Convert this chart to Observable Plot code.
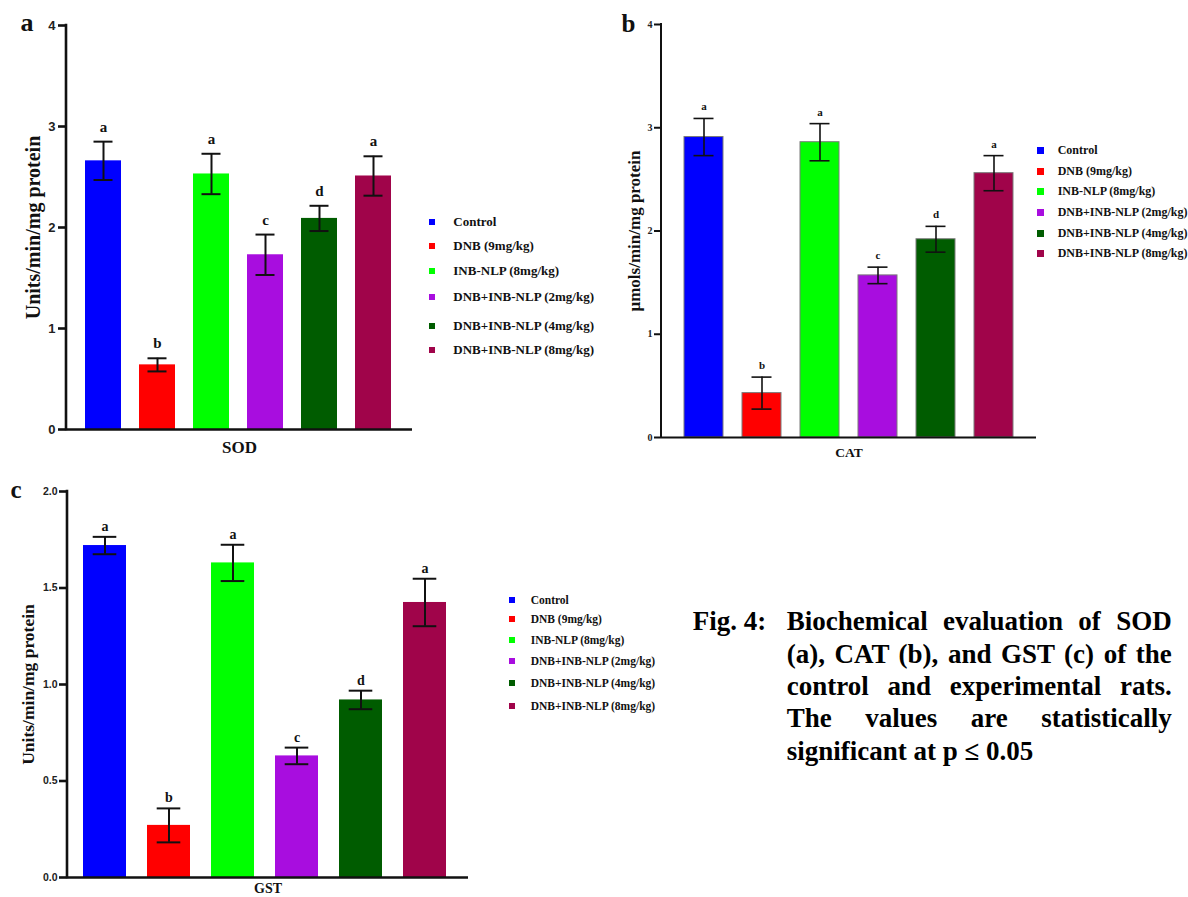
<!DOCTYPE html>
<html>
<head>
<meta charset="utf-8">
<script src="https://cdn.jsdelivr.net/npm/d3@7"></script>
<script src="https://cdn.jsdelivr.net/npm/@observablehq/plot@0.6"></script>
<style>
  html, body { margin: 0; padding: 0; background: #fff; }
  #root { position: relative; width: 1188px; height: 897px; overflow: hidden; background: #fff; }
  .abs { position: absolute; }
  .serif { font-family: "Liberation Serif", "Times New Roman", serif; font-weight: bold; color: #111; }
  .leg { position: absolute; display: flex; align-items: center; white-space: nowrap; }
  .cap { position: absolute; font-family: "Liberation Serif", "Times New Roman", serif; font-weight: bold; font-size: 27px; line-height: 32.3px; color: #000; white-space: nowrap; }
  .just { text-align: justify; text-align-last: justify; }
</style>
</head>
<body>
<div id="root"></div>
<script>
// ---- data ----
const groups = ["Control", "DNB (9mg/kg)", "INB-NLP (8mg/kg)", "DNB+INB-NLP (2mg/kg)", "DNB+INB-NLP (4mg/kg)", "DNB+INB-NLP (8mg/kg)"];
const colors = ["#0000ff", "#ff0000", "#00ff00", "#a80ddf", "#005c00", "#a0044a"];
const letters = ["a", "b", "a", "c", "d", "a"];

const sodMean = [2.66, 0.64, 2.53, 1.73, 2.09, 2.51];
const sodErr  = [0.19, 0.065, 0.20, 0.20, 0.125, 0.195];
const catMean = [2.91, 0.43, 2.86, 1.57, 1.92, 2.56];
const catErr  = [0.18, 0.155, 0.18, 0.08, 0.125, 0.17];
const gstMean = [1.72, 0.27, 1.63, 0.63, 0.92, 1.425];
const gstErr  = [0.045, 0.088, 0.094, 0.043, 0.048, 0.123];

const ticksAB = [0, 1, 2, 3, 4];
const ticksC = [0, 0.5, 1.0, 1.5, 2.0];

const root = document.getElementById("root");
const SERIF = "Liberation Serif, Times New Roman, serif";
const SANS = "Liberation Sans, Arial, sans-serif";

function rows(mean, err) {
  return groups.map((g, i) => ({group: g, mean: mean[i], err: err[i], letter: letters[i]}));
}

function panel(o) {
  const data = rows(o.mean, o.err);
  const svg = Plot.plot({
    width: o.width, height: o.height,
    marginLeft: o.ml, marginTop: o.mt, marginBottom: o.mb, marginRight: 0,
    style: {background: "transparent", overflow: "visible"},
    x: {domain: groups, paddingInner: 0.335, paddingOuter: o.po, align: o.align, axis: null},
    y: {domain: o.ydomain, axis: null},
    color: {domain: groups, range: colors},
    marks: [
      Plot.barY(data, {x: "group", y: "mean", fill: "group", stroke: o.barStroke, strokeWidth: o.barStroke ? 1 : 0}),
      Plot.ruleX(data, {x: "group", y1: d => d.mean - d.err, y2: d => d.mean + d.err, stroke: "#111", strokeWidth: o.esw}),
      Plot.tickY(data, {x: "group", y: d => d.mean + d.err, stroke: "#111", strokeWidth: o.esw, insetLeft: o.capInset, insetRight: o.capInset}),
      Plot.tickY(data, {x: "group", y: d => d.mean - d.err, stroke: "#111", strokeWidth: o.esw, insetLeft: o.capInset, insetRight: o.capInset}),
      Plot.text(data, {x: "group", y: d => d.mean + d.err, text: "letter", lineAnchor: "bottom", dy: o.letterDy,
        fontSize: o.letterSize, fontWeight: "bold", fontFamily: SERIF, fill: "#111"}),
      Plot.ruleY([0], {stroke: "#111", strokeWidth: o.asw}),
      Plot.axisY({ticks: o.ticks, tickFormat: o.tickFormat, tickSize: o.tickSize, tickPadding: o.tickPadding,
        strokeWidth: o.asw, stroke: "#111", fontSize: o.tickFont, fontWeight: "bold", fontFamily: o.tickFamily,
        fill: "#222", label: null}),
      Plot.text([o.ylabel], {frameAnchor: "left", textAnchor: "middle", lineAnchor: "middle", rotate: -90, dx: o.ylabelDx,
        fontSize: o.ylabelSize, fontWeight: "bold", fontFamily: SERIF, fill: "#111"}),
      Plot.text([o.xlabel], {frameAnchor: "bottom", textAnchor: "middle", lineAnchor: "bottom", dy: o.xlabelDy,
        fontSize: o.xlabelSize, fontWeight: "bold", fontFamily: SERIF, fill: "#111"})
    ]
  });
  // y-axis line
  d3.select(svg).append("line")
    .attr("x1", o.ml).attr("x2", o.ml)
    .attr("y1", o.mt - o.asw / 2).attr("y2", o.height - o.mb + o.asw / 2)
    .attr("stroke", "#111").attr("stroke-width", o.asw);
  const wrap = document.createElement("div");
  wrap.className = "abs";
  wrap.style.left = o.left + "px";
  wrap.style.top = o.top + "px";
  wrap.appendChild(svg);
  root.appendChild(wrap);
}

function legend(o) {
  groups.forEach((g, i) => {
    const row = document.createElement("div");
    row.className = "leg serif";
    const h = 20;
    row.style.left = o.sqLeft + "px";
    row.style.top = (o.centers[i] - h / 2) + "px";
    row.style.height = h + "px";
    row.style.fontSize = o.fontSize + "px";
    const sq = document.createElement("span");
    sq.style.display = "inline-block";
    sq.style.width = o.sq + "px";
    sq.style.height = o.sq + "px";
    sq.style.background = colors[i];
    sq.style.marginRight = (o.textLeft - o.sqLeft - o.sq) + "px";
    const t = document.createElement("span");
    t.textContent = g;
    row.appendChild(sq);
    row.appendChild(t);
    root.appendChild(row);
  });
}

function panelLetter(txt, left, baseline, size) {
  const d = document.createElement("div");
  d.className = "abs serif";
  d.style.fontSize = size + "px";
  d.style.lineHeight = size + "px";
  d.style.left = left + "px";
  d.style.top = (baseline - 0.8375 * size) + "px";
  d.textContent = txt;
  root.appendChild(d);
}

// Panel a: SOD
panel({
  left: 0, top: 0, width: 412, height: 470, ml: 66, mt: 25, mb: 41,
  po: 0.345, align: 0.48, mean: sodMean, err: sodErr, ydomain: [0, 4],
  ticks: ticksAB, tickFormat: d3.format("d"), tickSize: 8, tickPadding: 3, tickFont: 13, tickFamily: SANS,
  asw: 2.6, esw: 2, capInset: 8.5, letterSize: 15, letterDy: -10,
  ylabel: "Units/min/mg protein", ylabelDx: -33, ylabelSize: 20,
  xlabel: "SOD", xlabelDy: 23, xlabelSize: 17
});
legend({sqLeft: 429.3, sq: 6, textLeft: 453.3, fontSize: 13, centers: [221.5, 245.7, 270.7, 296.7, 325.7, 350]});
panelLetter("a", 20.5, 31.7, 26);

// Panel b: CAT
panel({
  left: 600, top: 0, width: 436, height: 467, ml: 61, mt: 24, mb: 30,
  po: 0.352, align: 0.5, mean: catMean, err: catErr, ydomain: [0, 4],
  ticks: ticksAB, tickFormat: d3.format("d"), tickSize: 7, tickPadding: 2, tickFont: 10, tickFamily: SERIF,
  asw: 2, esw: 1.6, capInset: 9.5, letterSize: 11, letterDy: -8, barStroke: "#7a7a7a",
  ylabel: "μmols/min/mg protein", ylabelDx: -27, ylabelSize: 17,
  xlabel: "CAT", xlabelDy: 19, xlabelSize: 13.5
});
legend({sqLeft: 1037, sq: 7, textLeft: 1057.7, fontSize: 12, centers: [150.7, 171, 191.3, 212, 233, 253.7]});
panelLetter("b", 621.5, 31.7, 25);

// Panel c: GST
panel({
  left: 0, top: 470, width: 468, height: 437, ml: 67, mt: 21, mb: 30,
  po: 0.293, align: 0.415, mean: gstMean, err: gstErr, ydomain: [0, 2],
  ticks: ticksC, tickFormat: d3.format(".1f"), tickSize: 8, tickPadding: 2, tickFont: 10.5, tickFamily: SANS,
  asw: 2.6, esw: 2, capInset: 9.7, letterSize: 14, letterDy: -6,
  ylabel: "Units/min/mg protein", ylabelDx: -39, ylabelSize: 17.5,
  xlabel: "GST", xlabelDy: 15, xlabelSize: 14
});
legend({sqLeft: 509.3, sq: 6, textLeft: 530.7, fontSize: 11.5, centers: [600, 619.3, 640, 661, 683.3, 706]});
panelLetter("c", 10.5, 498.3, 25);

// Caption
const capLines = [
  "Biochemical evaluation of SOD",
  "(a), CAT (b), and GST (c) of the",
  "control and experimental rats.",
  "The values are statistically",
  "significant at p \u2264 0.05"
];
const fig = document.createElement("div");
fig.className = "cap";
fig.style.left = "692.7px";
fig.style.top = "605.4px";
fig.textContent = "Fig. 4:";
root.appendChild(fig);
capLines.forEach((line, i) => {
  const d = document.createElement("div");
  d.className = "cap" + (i < 4 ? " just" : "");
  d.style.left = "786.7px";
  d.style.width = "385px";
  d.style.top = (605.4 + i * 32.3) + "px";
  d.textContent = line;
  root.appendChild(d);
});
</script>
</body>
</html>
